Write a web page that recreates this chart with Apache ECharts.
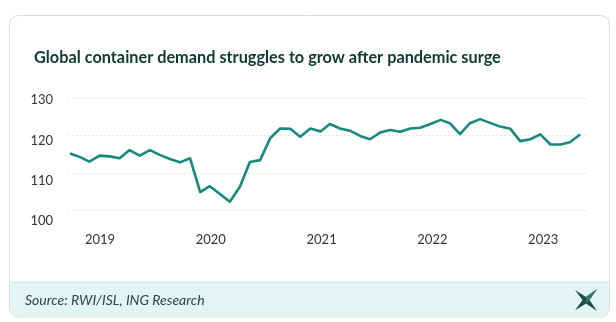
<!DOCTYPE html>
<html><head><meta charset="utf-8">
<script src="https://cdn.jsdelivr.net/npm/echarts@6/dist/echarts.min.js"></script>
<style>html,body{margin:0;padding:0;background:#fff}#c{width:616px;height:322px}</style>
</head><body><div id="c"></div>
<script>
// Monthly dates (Jan 2019 – Apr 2023)
const months = [
 '2019-01','2019-02','2019-03','2019-04','2019-05','2019-06','2019-07','2019-08','2019-09','2019-10','2019-11','2019-12',
 '2020-01','2020-02','2020-03','2020-04','2020-05','2020-06','2020-07','2020-08','2020-09','2020-10','2020-11','2020-12',
 '2021-01','2021-02','2021-03','2021-04','2021-05','2021-06','2021-07','2021-08','2021-09','2021-10','2021-11','2021-12',
 '2022-01','2022-02','2022-03','2022-04','2022-05','2022-06','2022-07','2022-08','2022-09','2022-10','2022-11','2022-12',
 '2023-01','2023-02','2023-03','2023-04'
];
// Container throughput index
const demand = [
 115.2,114.2,113.0,114.6,114.4,113.9,116.1,114.6,116.1,114.8,113.7,112.8,
 113.9,104.8,106.4,104.3,102.2,106.3,112.9,113.4,119.3,121.9,121.8,119.7,
 121.9,121.1,123.1,121.9,121.3,119.9,119.0,120.8,121.5,121.0,121.9,122.1,
 123.1,124.2,123.3,120.4,123.3,124.4,123.4,122.4,121.8,118.5,119.0,120.3,
 117.6,117.6,118.2,120.3
];
const yearLabels = ['2019','2020','2021','2022','2023'];
const yTicks = [100, 130, 10]; // min, max, step

const font = 'Lato, "Open Sans", sans-serif';
const chart = echarts.init(document.getElementById('c'), null, {renderer:'canvas'});
chart.setOption({
  animation: false,
  backgroundColor: '#ffffff',
  title: {
    text: 'Global container demand struggles to grow after pandemic surge',
    left: 34, top: 50, padding: 0,
    textStyle: {fontFamily: font, fontSize: 16.3, fontWeight: 'bold', color: '#0e3a30'}
  },
  graphic: [
    {type:'rect', z:-10, shape:{x:9.5, y:15.5, width:600, height:301.5, r:9},
     style:{fill:'#ffffff', stroke:'#dcdcdc', lineWidth:1}},
    {type:'rect', z:-9, shape:{x:10, y:282, width:599, height:34.5, r:[0,0,8,8]},
     style:{fill:'#e2f5f3'}},
    {type:'line', z:-8, shape:{x1:10, y1:282, x2:609, y2:282}, style:{stroke:'#d4dede', lineWidth:1}},
    {type:'text', left:25, top:293.5, style:{text:'Source: RWI/ISL, ING Research', fontFamily:font,
      fontSize:14, fontStyle:'italic', fill:'#2c4641'}},
    {type:'polygon', z:5, shape:{points:[[575,290],[586,297],[597,289],[589.5,300],[597,311],[586,303.5],[575,310.5],[582.5,300]]},
     style:{fill:'#1e4d45'}},
    {type:'polygon', z:6, shape:{points:[[586,297],[597,289],[589.5,300],[586,303.5]]},
     style:{fill:'#2f7a6c'}}
  ],
  grid: [
    {left:68, right:29, top:98.3, bottom:112},
    {left:44.6, right:17.4, top:100, bottom:101},
    {left:61, right:17.4, top:100, bottom:101}
  ],
  xAxis: [
    {type:'time', gridIndex:0, min:'2018-12-26', max:'2023-04-22', show:false},
    {type:'category', gridIndex:1, data:yearLabels, boundaryGap:true,
     axisLine:{show:false}, axisTick:{show:false}, splitLine:{show:false},
     axisLabel:{margin:12, fontFamily:font, fontSize:13, color:'#333'}},
    {type:'value', gridIndex:2, show:false}
  ],
  yAxis: [
    {type:'value', gridIndex:0, min:yTicks[0], max:yTicks[1], interval:yTicks[2],
     axisLine:{show:false}, axisTick:{show:false}, axisLabel:{show:false},
     splitLine:{show:true, lineStyle:{color:'#e6e6e6', type:[2,2], width:1}}},
    {type:'value', gridIndex:1, show:false},
    {type:'value', gridIndex:2, min:yTicks[0], max:yTicks[1], interval:yTicks[2],
     axisLine:{show:false}, axisTick:{show:false}, splitLine:{show:false},
     axisLabel:{margin:8, fontFamily:font, fontSize:13, color:'#333'}}
  ],
  series: [{
    type:'line', xAxisIndex:0, yAxisIndex:0,
    data: months.map((m,i)=>[m+'-01', demand[i]]),
    symbol:'none', smooth:false,
    lineStyle:{color:'#17897e', width:2.6, join:'round'}
  }]
});
</script></body></html>
